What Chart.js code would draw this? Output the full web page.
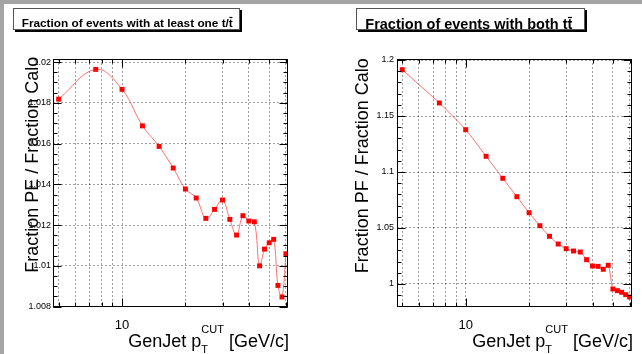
<!DOCTYPE html>
<html>
<head>
<meta charset="utf-8">
<script src="https://cdn.jsdelivr.net/npm/chart.js@4.4.0/dist/chart.umd.min.js"></script>
<style>
    html, body { margin: 0; padding: 0; }
    body { width: 642px; height: 354px; background: #a4a4a4; position: relative; overflow: hidden; }
    #sheet { position: absolute; left: 4px; top: 4px; width: 638px; height: 350px; background: #fff; }
    .pad { position: absolute; top: 0; height: 350px; }
    #padLeft { left: 0; width: 317px; }
    #padRight { left: 317px; width: 321px; }
</style>
</head>
<body>
<div id="sheet">
    <div class="pad" id="padLeft"><canvas id="leftChart" width="317" height="350"></canvas></div>
    <div class="pad" id="padRight"><canvas id="rightChart" width="321" height="350"></canvas></div>
</div>

<script>
// GenJet pT cut values (x axis, log)
const ptCut = [5, 7.5, 10, 12.5, 15, 17.5, 20, 22.5, 25, 27.5, 30, 32.5, 35, 37.5, 40, 42.5, 45, 47.5, 50, 52.5, 55, 57.5, 60];

// left pad: at least one t/tbar
const ratioAtLeastOne = [1.01818, 1.01964, 1.01866, 1.01687, 1.01586, 1.01480, 1.01377, 1.01333, 1.01233, 1.01277, 1.01323, 1.01228,
    1.01151, 1.01246, 1.01220, 1.01216, 1.01000, 1.01082, 1.01113, 1.01130, 1.00904, 1.00847, 1.01059];

// right pad: both t and tbar
const ratioBoth = [1.19134, 1.16161, 1.13777, 1.11402, 1.09437, 1.07795, 1.06366, 1.05205, 1.04259, 1.03571, 1.03152, 1.02946,
    1.02857, 1.02170, 1.01607, 1.01577, 1.01313, 1.01670, 0.99554, 0.99405, 0.99259, 0.99045, 0.98839];

// ticks
const xTickValues = [5, 6, 7, 8, 9, 10, 20, 30, 40, 50, 60];
const xLabelValues = [10];
const yTicksLeft = [1.008, 1.01, 1.012, 1.014, 1.016, 1.018, 1.02];
const yTicksRight = [1, 1.05, 1.1, 1.15, 1.2];

// texts (last letter of each title gets a bar drawn over it: t-bar)
const titleLeft = "Fraction of events with at least one t/t";
const titleRight = "Fraction of events with both tt";
const yTitleLeft = "Fraction PE / Fraction Calo";
const yTitleRight = "Fraction PF / Fraction Calo";
const xTitleParts = ["GenJet p", "T", "CUT", " [GeV/c]"];

const FONT = '"Liberation Sans", Arial, Helvetica, sans-serif';
const lineColor = "rgba(255, 80, 80, 0.8)";
const markerColor = "#ff0000";
const gridColor = "rgba(0, 0, 0, 0.38)";


// draws the ROOT-like frame, inner ticks, titles
const rootPad = {
    id: 'rootPad',
    afterDraw(chart, args, o) {
        const ctx = chart.ctx;
        const a = chart.chartArea;
        const sx = chart.scales.x;
        const sy = chart.scales.y;
        ctx.save();

        // frame
        ctx.strokeStyle = "#000";
        ctx.lineWidth = 1;
        const L = Math.round(a.left) + 0.5, R = Math.round(a.right) - 0.5;
        const T = Math.round(a.top) + 0.5, B = Math.round(a.bottom) - 0.5;
        ctx.strokeRect(L, T, R - L, B - T);

        ctx.beginPath();
        // x ticks, bottom and top
        xTickValues.forEach(v => {
            const px = Math.round(sx.getPixelForValue(v)) + 0.5;
            const len = xLabelValues.includes(v) ? 8 : 4;
            ctx.moveTo(px, B); ctx.lineTo(px, B - len);
            ctx.moveTo(px, T); ctx.lineTo(px, T + len);
        });
        // y ticks, major + minor
        o.yMajor.forEach(v => {
            const py = Math.round(sy.getPixelForValue(v)) + 0.5;
            ctx.moveTo(L, py); ctx.lineTo(L + 8, py);
            ctx.moveTo(R, py); ctx.lineTo(R - 8, py);
        });
        const step = o.yMinorStep;
        for (let k = Math.ceil(sy.min / step); k * step <= sy.max + 1e-9; k++) {
            const py = Math.round(sy.getPixelForValue(k * step)) + 0.5;
            ctx.moveTo(L, py); ctx.lineTo(L + 4, py);
            ctx.moveTo(R, py); ctx.lineTo(R - 4, py);
        }
        ctx.stroke();

        // title box with shadow
        const b = o.box;
        ctx.fillStyle = "#000";
        ctx.fillRect(b.x + 2, b.y + 2, b.w, b.h);
        ctx.fillStyle = "#fff";
        ctx.fillRect(b.x, b.y, b.w, b.h);
        ctx.strokeStyle = "#555";
        ctx.strokeRect(b.x + 0.5, b.y + 0.5, b.w - 1, b.h - 1);
        ctx.fillStyle = "#000";
        ctx.font = "bold " + b.size + "px " + FONT;
        ctx.textAlign = "left";
        ctx.textBaseline = "alphabetic";
        ctx.fillText(b.text, b.tx, b.ty);
        // bar over the last t
        const wAll = ctx.measureText(b.text).width;
        const wLast = ctx.measureText(b.text.slice(-1)).width;
        const barY = Math.round(b.ty - b.size * 0.86) + 0.5;
        ctx.strokeStyle = "#000";
        ctx.lineWidth = 1.2;
        ctx.beginPath();
        ctx.moveTo(b.tx + wAll - wLast + 0.5, barY);
        ctx.lineTo(b.tx + wAll - 0.3, barY);
        ctx.stroke();

        // y title, rotated, aligned to the top of the axis
        ctx.save();
        ctx.translate(o.yTitleX, o.yTitleTop);
        ctx.rotate(-Math.PI / 2);
        ctx.font = "18px " + FONT;
        ctx.textAlign = "right";
        ctx.fillText(o.yTitle, 0, 0);
        ctx.restore();

        // x title with p_T^CUT
        const big = "18px " + FONT, small = "11px " + FONT;
        ctx.font = big;
        const w1 = ctx.measureText(xTitleParts[0]).width;
        const w4 = ctx.measureText(xTitleParts[3]).width;
        ctx.font = small;
        const wSub = ctx.measureText(xTitleParts[1]).width;
        const wSup = ctx.measureText(xTitleParts[2]).width;
        const total = w1 + Math.max(wSub, wSup) + w4;
        const x0 = a.right + 1 - total;
        const base = o.xTitleBase;
        ctx.textAlign = "left";
        ctx.font = big;
        ctx.fillText(xTitleParts[0], x0, base);
        ctx.font = small;
        ctx.fillText(xTitleParts[1], x0 + w1, base + 6);
        ctx.fillText(xTitleParts[2], x0 + w1, base - 14);
        ctx.font = big;
        ctx.fillText(xTitleParts[3], x0 + w1 + Math.max(wSub, wSup), base);

        ctx.restore();
    }
};


function buildPad(canvasId, values, cfg) {
    const ctx = document.getElementById(canvasId).getContext("2d");
    return new Chart(ctx, {
        type: "line",
        data: {
            datasets: [{
                data: ptCut.map((x, i) => ({ x: x, y: values[i] })),
                borderColor: lineColor,
                borderWidth: 1,
                tension: cfg.tension,
                pointStyle: "rect",
                pointRadius: 3.5,
                pointBackgroundColor: markerColor,
                pointBorderWidth: 0,
                fill: false
            }]
        },
        options: {
            responsive: false,
            animation: false,
            layout: { padding: { left: 0, top: 55, right: cfg.padRight, bottom: 0 } },
            plugins: {
                legend: { display: false },
                tooltip: { enabled: false },
                rootPad: cfg.pad
            },
            scales: {
                x: {
                    type: "logarithmic",
                    min: cfg.xMin,
                    max: cfg.xMax,
                    bounds: "data",
                    afterBuildTicks: s => { s.ticks = xTickValues.map(v => ({ value: v })); },
                    afterFit: s => { s.height = 47; },
                    grid: { color: gridColor, lineWidth: 1, drawTicks: false },
                    border: { display: false, dash: [2, 2] },
                    ticks: {
                        autoSkip: false,
                        maxRotation: 0,
                        padding: 11,
                        color: "#000",
                        font: { family: FONT, size: 13 },
                        callback: v => xLabelValues.includes(v) ? String(v) : ""
                    }
                },
                y: {
                    type: "linear",
                    min: cfg.yMin,
                    max: cfg.yMax,
                    afterBuildTicks: s => { s.ticks = cfg.yTicks.map(v => ({ value: v })); },
                    afterFit: s => { s.width = cfg.yWidth; },
                    grid: { color: gridColor, lineWidth: 1, drawTicks: false },
                    border: { display: false, dash: [2, 2] },
                    ticks: {
                        padding: cfg.yPad,
                        color: "#000",
                        font: { family: FONT, size: 9 },
                        callback: v => String(v)
                    }
                }
            }
        },
        plugins: [rootPad]
    });
}


buildPad("leftChart", ratioAtLeastOne, {
    tension: 0.4,
    padRight: 33,
    xMin: 4.70, xMax: 61.4,
    yMin: 1.00798, yMax: 1.02015,
    yTicks: yTicksLeft,
    yWidth: 49,
    yPad: 2,
    pad: {
        yMajor: yTicksLeft,
        yMinorStep: 0.0005,
        box: { x: 9, y: 4, w: 227, h: 22, text: titleLeft, size: 11.8, tx: 17.7, ty: 23.3 },
        yTitle: yTitleLeft, yTitleX: 34.4, yTitleTop: 52.7,
        xTitleBase: 342.7
    }
});

buildPad("rightChart", ratioBoth, {
    tension: 0.25,
    padRight: 10,
    xMin: 4.72, xMax: 61.6,
    yMin: 0.97946, yMax: 1.2009,
    yTicks: yTicksRight,
    yWidth: 76,
    yPad: 3,
    pad: {
        yMajor: yTicksRight,
        yMinorStep: 0.01,
        box: { x: 35, y: 4, w: 229, h: 22, text: titleRight, size: 14.5, tx: 44.3, ty: 25 },
        yTitle: yTitleRight, yTitleX: 46.7, yTitleTop: 54.3,
        xTitleBase: 342.7
    }
});
</script>
</body>
</html>
